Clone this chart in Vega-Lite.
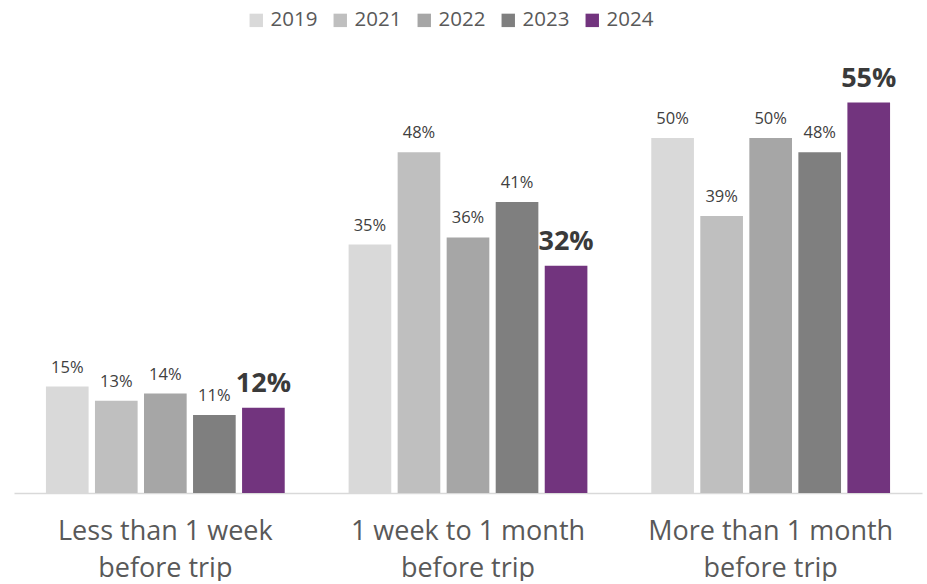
{
  "$schema": "https://vega.github.io/schema/vega-lite/v6.json",
  "width": 908,
  "height": 426,
  "padding": {"left": 14, "top": 10, "right": 5, "bottom": 0},
  "background": "white",
  "config": {
    "view": {"stroke": null},
    "font": "Open Sans"
  },
  "data": {
    "values": [
      {"timing": "Less than 1 week|before trip", "year": "2019", "pct": 0.15},
      {"timing": "Less than 1 week|before trip", "year": "2021", "pct": 0.13},
      {"timing": "Less than 1 week|before trip", "year": "2022", "pct": 0.14},
      {"timing": "Less than 1 week|before trip", "year": "2023", "pct": 0.11},
      {"timing": "Less than 1 week|before trip", "year": "2024", "pct": 0.12},
      {"timing": "1 week to 1 month|before trip", "year": "2019", "pct": 0.35},
      {"timing": "1 week to 1 month|before trip", "year": "2021", "pct": 0.48},
      {"timing": "1 week to 1 month|before trip", "year": "2022", "pct": 0.36},
      {"timing": "1 week to 1 month|before trip", "year": "2023", "pct": 0.41},
      {"timing": "1 week to 1 month|before trip", "year": "2024", "pct": 0.32},
      {"timing": "More than 1 month|before trip", "year": "2019", "pct": 0.50},
      {"timing": "More than 1 month|before trip", "year": "2021", "pct": 0.39},
      {"timing": "More than 1 month|before trip", "year": "2022", "pct": 0.50},
      {"timing": "More than 1 month|before trip", "year": "2023", "pct": 0.48},
      {"timing": "More than 1 month|before trip", "year": "2024", "pct": 0.55}
    ]
  },
  "encoding": {
    "x": {
      "field": "timing",
      "type": "nominal",
      "sort": null,
      "scale": {"paddingInner": 0.19, "paddingOuter": 0.095},
      "axis": {
        "title": null,
        "labelAngle": 0,
        "labelExpr": "split(datum.label, '|')",
        "labelFont": "Open Sans",
        "labelFontSize": 27,
        "labelColor": "#595959",
        "labelLineHeight": 37,
        "labelBaseline": "top",
        "labelPadding": 25,
        "labelLimit": 500,
        "ticks": false,
        "domainColor": "#d9d9d9",
        "domainWidth": 1.5
      }
    },
    "xOffset": {
      "field": "year",
      "type": "nominal",
      "sort": ["2019", "2021", "2022", "2023", "2024"],
      "scale": {"paddingInner": 0.13, "paddingOuter": 0.065}
    },
    "y": {
      "field": "pct",
      "type": "quantitative",
      "scale": {"domain": [0, 0.6], "nice": false},
      "axis": null
    }
  },
  "layer": [
    {
      "mark": {"type": "bar"},
      "encoding": {
        "color": {
          "field": "year",
          "type": "nominal",
          "scale": {
            "domain": ["2019", "2021", "2022", "2023", "2024"],
            "range": ["#d9d9d9", "#bfbfbf", "#a6a6a6", "#7f7f7f", "#72347e"]
          },
          "legend": {
            "title": null,
            "orient": "none",
            "direction": "horizontal",
            "legendX": 232,
            "legendY": -57,
            "symbolType": "square",
            "symbolSize": 180,
            "symbolStrokeWidth": 0,
            "labelFont": "Open Sans",
            "labelFontSize": 20.5,
            "labelColor": "#595959",
            "labelOffset": 4,
            "columnPadding": 12
          }
        }
      }
    },
    {
      "transform": [{"filter": "datum.year != '2024'"}],
      "mark": {"type": "text", "baseline": "bottom", "dy": -11, "fontSize": 16.5, "color": "#404040", "font": "Open Sans"},
      "encoding": {
        "text": {"field": "pct", "type": "quantitative", "format": ".0%"}
      }
    },
    {
      "transform": [{"filter": "datum.year == '2024'"}],
      "mark": {"type": "text", "baseline": "bottom", "dy": -10, "fontSize": 27, "fontWeight": "bold", "color": "#3a3a3a", "font": "Open Sans"},
      "encoding": {
        "text": {"field": "pct", "type": "quantitative", "format": ".0%"}
      }
    }
  ]
}
